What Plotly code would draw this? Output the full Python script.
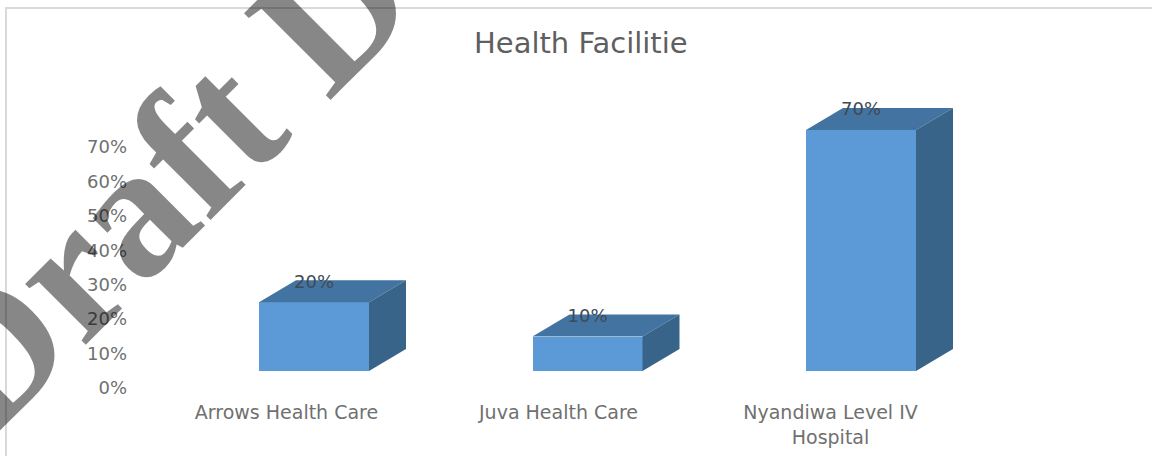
import plotly.graph_objects as go

categories = ["Arrows Health Care", "Juva Health Care", "Nyandiwa Level IV<br>Hospital"]
values = [20, 10, 70]
y_ticks = [0, 10, 20, 30, 40, 50, 60, 70]
y_tick_labels = ["0%", "10%", "20%", "30%", "40%", "50%", "60%", "70%"]
title_text = "Health Facilitie"
watermark = "Draft D"

W, H = 1152, 456
px_y = 3.443          # px per percent point
bar_step, lab_step = 273.5, 272
bar_w = 110 / bar_step
dx, dy = 37 / bar_step, 22 / px_y
lab_off = 19 / px_y
idx = list(range(len(values)))

fig = go.Figure()

for i, v in zip(idx, values):
    r = i + bar_w / 2
    l = i - bar_w / 2
    # top face
    fig.add_trace(go.Scatter(x=[l, l + dx, r + dx, r, l], y=[v, v + dy, v + dy, v, v],
                             mode="lines", fill="toself", fillcolor="#4373A1",
                             line=dict(width=0, color="#4373A1"), hoverinfo="skip", showlegend=False))
    # side face
    fig.add_trace(go.Scatter(x=[r, r + dx, r + dx, r, r], y=[0, dy, v + dy, v, 0],
                             mode="lines", fill="toself", fillcolor="#396489",
                             line=dict(width=0, color="#396489"), hoverinfo="skip", showlegend=False))

fig.add_trace(go.Bar(x=idx, y=values, width=bar_w, marker=dict(color="#5B9AD6", line=dict(width=0)),
                     showlegend=False))
fig.add_trace(go.Scatter(x=idx, y=[v + lab_off for v in values], mode="text",
                         text=[f"{v}%" for v in values], textposition="middle center",
                         textfont=dict(family="DejaVu Sans", size=18, color="#404A55"),
                         hoverinfo="skip", showlegend=False))
# carries the offset category and percentage axes
fig.add_trace(go.Scatter(x=idx, y=values, xaxis="x2", yaxis="y2", mode="markers",
                         marker=dict(opacity=0), hoverinfo="skip", showlegend=False))

tick_font = dict(family="DejaVu Sans", size=18, color="#707070")
cat_font = dict(family="DejaVu Sans", size=19, color="#707070")
fig.update_layout(
    width=W, height=H, margin=dict(l=0, r=0, t=0, b=0), plot_bgcolor="white", paper_bgcolor="white",
    bargap=0, showlegend=False,
    xaxis=dict(domain=[0, 1], range=[-314 / bar_step, (W - 314) / bar_step], visible=False, fixedrange=True),
    yaxis=dict(domain=[0, 1], range=[-(H - 371) / px_y, 371 / px_y], visible=False, fixedrange=True),
    xaxis2=dict(overlaying="x", anchor="free", position=(H - 399) / H, side="bottom",
                range=[-286.5 / lab_step, (W - 286.5) / lab_step], tickmode="array", tickvals=idx,
                ticktext=categories, tickfont=cat_font, showgrid=False, showline=False, zeroline=False,
                ticks="", automargin=False, tickangle=0),
    yaxis2=dict(overlaying="y", anchor="free", position=127 / W, side="left",
                range=[-(H - 388) / px_y, 388 / px_y], tickmode="array", tickvals=y_ticks,
                ticktext=y_tick_labels, tickfont=tick_font, showgrid=False, showline=False, zeroline=False,
                ticks="", automargin=False),
    shapes=[dict(type="rect", xref="paper", yref="paper", x0=6 / W, x1=1.01, y0=-0.05, y1=1 - 8 / H,
                 line=dict(color="#D9D9D9", width=2), fillcolor="rgba(0,0,0,0)", layer="below")],
    annotations=[
        dict(text=title_text, xref="paper", yref="paper", x=581 / W, y=1 - 43 / H, xanchor="center",
             yanchor="middle", showarrow=False,
             font=dict(family="DejaVu Sans", size=29, color="#5F5F5F")),
        dict(text=watermark, xref="paper", yref="paper", x=160 / W, y=1 - 180 / H, xanchor="center",
             yanchor="middle", showarrow=False, textangle=-45,
             font=dict(family="Liberation Serif", size=187, color="rgba(0,0,0,0.47)", weight="bold")),
    ],
)
fig.write_html("out.html", config=dict(displayModeBar=False),
               post_script="document.body.style.margin='0';document.body.style.overflow='hidden';")
